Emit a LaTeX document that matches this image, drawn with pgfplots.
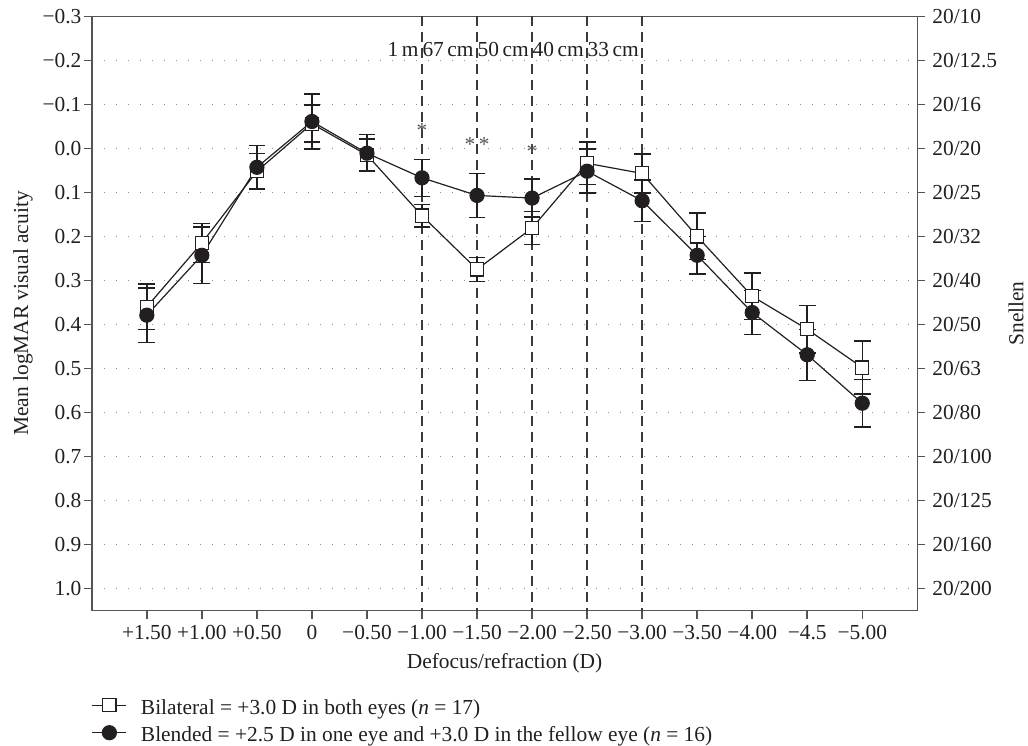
\documentclass[border=0pt]{standalone}
\usepackage{pgfplots}
\usepackage{pgfplotstable}
\pgfplotsset{compat=1.18}
\usepackage{fontspec}
\setmainfont{Liberation Serif}
\definecolor{ink}{HTML}{231F20}
\definecolor{axc}{HTML}{555555}
\definecolor{gridc}{HTML}{8C8C8C}
\definecolor{dashc}{HTML}{3A3A3A}

\pgfplotstableread{
x y e
0 0.360 0.052
1 0.215 0.044
2 0.052 0.040
3 -0.056 0.042
4 0.015 0.036
5 0.153 0.026
6 0.275 0.027
7 0.181 0.038
8 0.034 0.048
9 0.057 0.044
10 0.200 0.053
11 0.336 0.053
12 0.411 0.054
13 0.498 0.060
}\bilat

\pgfplotstableread{
x y e
0 0.379 0.062
1 0.243 0.064
2 0.043 0.050
3 -0.061 0.062
4 0.011 0.042
5 0.067 0.042
6 0.107 0.050
7 0.113 0.043
8 0.052 0.050
9 0.119 0.047
10 0.243 0.043
11 0.373 0.050
12 0.469 0.058
13 0.579 0.054
}\blend

\begin{document}
\begin{tikzpicture}[font=\fontsize{10.7}{12.8}\selectfont]
\path[use as bounding box] (-45.9pt,-67.25pt) rectangle (468.1pt,305.25pt);
\begin{axis}[
  name=main,
  scale only axis, width=412.75pt, height=297.1pt,
  xmin=-1, xmax=14, ymin=-0.3, ymax=1.05, y dir=reverse,
  xtick={0,...,13},
  xticklabels={+1.50,+1.00,+0.50,0,−0.50,−1.00,−1.50,−2.00,−2.50,−3.00,−3.50,−4.00,−4.5,−5.00},
  ytick={-0.3,-0.2,-0.1,0,0.1,0.2,0.3,0.4,0.5,0.6,0.7,0.8,0.9,1.0},
  yticklabels={−0.3,−0.2,−0.1,0.0,0.1,0.2,0.3,0.4,0.5,0.6,0.7,0.8,0.9,1.0},
  xtick pos=bottom, ytick pos=left,
  tick align=outside, major tick length=4pt,
  tick style={axc, line width=0.75pt},
  axis line style={axc, line width=0.75pt},
  ymajorgrids, major grid style={gridc, line width=0.6pt, dash pattern=on 0.6pt off 5.4pt},
  ticklabel style={text=ink},
  yticklabel style={inner sep=1pt},
  xlabel={Defocus/refraction (D)},
  ylabel={Mean logMAR visual acuity},
  xlabel style={at={(axis description cs:0.5,-0.0884)}, anchor=center, text=ink},
  ylabel style={at={(axis description cs:-0.0833,0.5)}, anchor=center, text=ink},
  legend cell align=left,
  legend image code/.code={\draw[#1, mark repeat=2, mark phase=2] plot coordinates {(0pt,3.4pt)(8.5pt,3.4pt)(17pt,3.4pt)};},
  legend style={at={(axis description cs:0,-0.1474)}, anchor=north west, draw=none, fill=none,
    inner sep=0pt, outer sep=0pt, row sep=0pt, column sep=7pt,
    nodes={inner sep=0pt, text height=8pt, text depth=5.8pt, text=ink}},
]
\pgfplotsinvokeforeach{5,6,7,8,9}{
  \draw[dashc, line width=0.65pt, dash pattern=on 5pt off 3pt] (axis cs:#1,-0.3) -- (axis cs:#1,1.05);
}
\node[anchor=east, inner sep=1.5pt, text=ink] at (axis cs:5,-0.224) {1\,m};
\node[anchor=east, inner sep=1.5pt, text=ink] at (axis cs:6,-0.224) {67\,cm};
\node[anchor=east, inner sep=1.5pt, text=ink] at (axis cs:7,-0.224) {50\,cm};
\node[anchor=east, inner sep=1.5pt, text=ink] at (axis cs:8,-0.224) {40\,cm};
\node[anchor=east, inner sep=1.5pt, text=ink] at (axis cs:9,-0.224) {33\,cm};
\node[text=axc] at (axis cs:5,-0.040) {*};
\node[text=axc] at (axis cs:6,-0.008) {*\,*};
\node[text=axc] at (axis cs:7,0.007) {*};
\addplot[ink, line width=0.6pt, mark=square*, mark size=3.3pt,
  mark options={fill=white, draw=ink, line width=0.6pt, solid},
  error bars/.cd, y dir=both, y explicit,
  error bar style={line width=0.75pt, ink},
  error mark options={rotate=90, mark size=4.2pt, line width=0.75pt, ink}]
  table[x=x, y=y, y error=e] {\bilat};
\addlegendentry{Bilateral = +3.0 D in both eyes (\textit{n} = 17)}
\addplot[ink, line width=0.6pt, mark=*, mark size=3.5pt,
  mark options={fill=ink, draw=ink, solid},
  error bars/.cd, y dir=both, y explicit,
  error bar style={line width=0.75pt, ink},
  error mark options={rotate=90, mark size=4.2pt, line width=0.75pt, ink}]
  table[x=x, y=y, y error=e] {\blend};
\addlegendentry{Blended = +2.5 D in one eye and +3.0 D in the fellow eye (\textit{n} = 16)}
\end{axis}
\begin{axis}[
  scale only axis, width=412.75pt, height=297.1pt,
  xmin=-1, xmax=14, ymin=-0.3, ymax=1.05, y dir=reverse,
  hide x axis, axis y line*=right,
  ytick={-0.3,-0.2,-0.1,0,0.1,0.2,0.3,0.4,0.5,0.6,0.7,0.8,0.9,1.0},
  yticklabels={20/10,20/12.5,20/16,20/20,20/25,20/32,20/40,20/50,20/63,20/80,20/100,20/125,20/160,20/200},
  tick align=outside, major tick length=4pt,
  tick style={axc, line width=0.75pt},
  axis line style={axc, line width=0.75pt},
  ticklabel style={text=ink},
  ylabel={Snellen},
  ylabel style={at={(axis description cs:1.1196,0.5)}, anchor=center, text=ink},
]
\addplot[draw=none] coordinates {(0,0)};
\end{axis}
\end{tikzpicture}
\end{document}
